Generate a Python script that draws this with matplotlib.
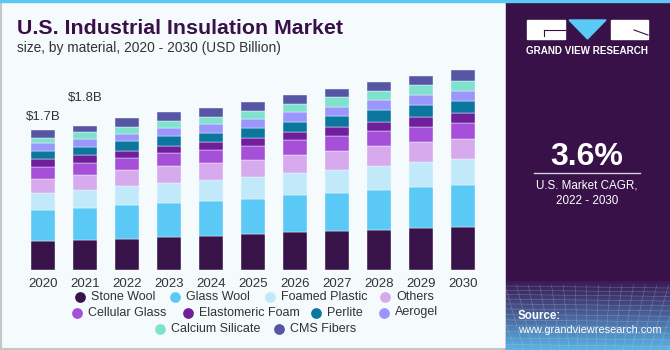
import numpy as np
import matplotlib.pyplot as plt
from matplotlib.patches import Rectangle, Polygon

plt.rcParams['font.family'] = ['Liberation Sans', 'DejaVu Sans']

years = ['2020', '2021', '2022', '2023', '2024', '2025', '2026', '2027', '2028', '2029', '2030']

# USD Billion
stone_wool = [0.347, 0.356, 0.375, 0.400, 0.412, 0.433, 0.457, 0.469, 0.485, 0.502, 0.518]
glass_wool = [0.378, 0.394, 0.407, 0.414, 0.427, 0.430, 0.447, 0.467, 0.487, 0.500, 0.515]
foamed_plastic = [0.207, 0.219, 0.235, 0.240, 0.252, 0.264, 0.272, 0.280, 0.292, 0.305, 0.310]
others = [0.174, 0.186, 0.195, 0.204, 0.204, 0.211, 0.223, 0.232, 0.240, 0.247, 0.251]
cellular_glass = [0.143, 0.143, 0.146, 0.158, 0.162, 0.167, 0.175, 0.183, 0.183, 0.186, 0.195]
elastomeric_foam = [0.097, 0.094, 0.089, 0.093, 0.094, 0.101, 0.105, 0.102, 0.113, 0.115, 0.122]
perlite = [0.097, 0.105, 0.115, 0.115, 0.117, 0.118, 0.122, 0.141, 0.139, 0.146, 0.146]
aerogel = [0.094, 0.090, 0.093, 0.097, 0.102, 0.110, 0.118, 0.106, 0.122, 0.126, 0.122]
calcium_silicate = [0.065, 0.085, 0.085, 0.093, 0.093, 0.097, 0.101, 0.122, 0.117, 0.122, 0.122]
cms_fibers = [0.097, 0.077, 0.102, 0.102, 0.106, 0.106, 0.106, 0.094, 0.110, 0.110, 0.127]

series = [
    ('Stone Wool', stone_wool, '#381349'),
    ('Glass Wool', glass_wool, '#5bc9f6'),
    ('Foamed Plastic', foamed_plastic, '#c1e9fa'),
    ('Others', others, '#d6aaec'),
    ('Cellular Glass', cellular_glass, '#a64fd8'),
    ('Elastomeric Foam', elastomeric_foam, '#6f1f9b'),
    ('Perlite', perlite, '#0b779f'),
    ('Aerogel', aerogel, '#9b96fb'),
    ('Calcium Silicate', calcium_silicate, '#7fe2cc'),
    ('CMS Fibers', cms_fibers, '#5756a5'),
]

value_labels = {0: '$1.7B', 1: '$1.8B'}
label_offsets = {0: 13, 1: 28}  # px above bar

legend_rows = [
    ['Stone Wool', 'Glass Wool', 'Foamed Plastic', 'Others'],
    ['Cellular Glass', 'Elastomeric Foam', 'Perlite', 'Aerogel'],
    ['Calcium Silicate', 'CMS Fibers'],
]
legend_x = [[80, 175, 270, 385], [77, 188, 316, 384], [160, 279]]
legend_y = [296.5, 312.5, 328.5]

W, H = 670, 350
fig = plt.figure(figsize=(6.7, 3.5), dpi=100)

# background layer in pixel coords
bg = fig.add_axes([0, 0, 1, 1])
bg.set_xlim(0, W)
bg.set_ylim(H, 0)
bg.axis('off')
bg.add_patch(Rectangle((0, 0), W, H, color='#f5fafd', zorder=0))
bg.plot([0.5, 0.5], [0, H], color='#c6c6c6', lw=1.5, zorder=1)
bg.plot([0, W], [H - 1, H - 1], color='#c6c6c6', lw=1.5, zorder=1)

# right panel with gradient at the bottom
px0 = 506
panel = Rectangle((px0, 0), W - px0, H, color='#371147', zorder=1)
bg.add_patch(panel)
grad = np.linspace(0, 1, 80)[:, None]
c0 = np.array([0x3a, 0x1c, 0x55]) / 255
c1 = np.array([0x5a, 0xb4, 0xe6]) / 255
img = c0 + (c1 - c0) * (grad ** 1.1)[:, :, None] * np.ones((1, 2, 1))
bg.imshow(img, extent=(px0, W, H, 281), aspect='auto', zorder=2, interpolation='bilinear')
for k in range(14):
    yy = 286 + k * 4 + k * k * 0.12
    ln, = bg.plot([px0, W], [yy, yy + 2], color='#c8d4f2', lw=0.4, alpha=0.35, zorder=3)
    ln.set_clip_path(panel)
for k in range(20):
    xx = px0 + k * 9
    ln, = bg.plot([xx + (xx - 588) * 0.3, xx], [285, H], color='#c8d4f2', lw=0.4, alpha=0.35, zorder=3)
    ln.set_clip_path(panel)

bg.add_patch(Rectangle((0, 0), W, 2, color='#5bc9f6', zorder=4))

# logo
bg.add_patch(Rectangle((527, 20), 38, 19, color='white', zorder=5))
bg.plot([544, 565], [30, 30], color='#371147', lw=0.8, zorder=6)
bg.plot([544, 544], [30, 36], color='#371147', lw=0.8, zorder=6)
bg.add_patch(Polygon([(569, 20), (606, 20), (587.5, 39)], closed=True, color='#5bc9f6', zorder=5))
bg.add_patch(Rectangle((611, 20), 37, 19, color='white', zorder=5))
bg.plot([634, 648], [30, 35], color='#371147', lw=0.8, zorder=6)
bg.text(587.5, 50.5, 'GRAND VIEW RESEARCH', color='white', fontsize=7.1, fontweight='bold',
        ha='center', va='center', zorder=6)

bg.text(587, 157, '3.6%', color='white', fontsize=23, fontweight='bold', ha='center', va='center', zorder=6)
bg.plot([534, 640], [173, 173], color='#d9cfe0', lw=1, zorder=6)
bg.text(587, 185, 'U.S. Market CAGR,', color='white', fontsize=8.4, ha='center', va='center', zorder=6)
bg.text(587, 201, '2022 - 2030', color='white', fontsize=8.4, ha='center', va='center', zorder=6)
bg.text(518, 316, 'Source:', color='white', fontsize=8.3, fontweight='bold', ha='left', va='center', zorder=6)
bg.text(518, 330, 'www.grandviewresearch.com', color='white', fontsize=7.9, ha='left', va='center', zorder=6)

# titles
bg.text(17, 29, 'U.S. Industrial Insulation Market', color='#3a1048', fontsize=15.4, fontweight='bold',
        ha='left', va='center', zorder=6)
bg.text(17, 48, 'size, by material, 2020 - 2030 (USD Billion)', color='#333333', fontsize=9.9,
        ha='left', va='center', zorder=6)

# legend
names = {n: c for n, _, c in series}
for row, xs, yy in zip(legend_rows, legend_x, legend_y):
    for name, xx in zip(row, xs):
        bg.scatter([xx], [yy], s=45, color=names[name], zorder=6)
        bg.text(xx + 11, yy, name, color='#333333', fontsize=9, ha='left', va='center', zorder=6)

# chart
base_px = 269.5
top_px = 60
bpp = 1.7 / 139.5  # billion per pixel
ax = fig.add_axes([1 / W, (H - base_px) / H, 504 / W, (base_px - top_px) / H])
ax.set_facecolor('none')
x = np.arange(len(years))
bottom = np.zeros(len(years))
for name, vals, color in series:
    ax.bar(x, vals, bottom=bottom, width=24 / 42, color=color, edgecolor='#f5fafd', linewidth=0.3)
    bottom += np.array(vals)

for i, lab in value_labels.items():
    ax.text(x[i], bottom[i] + label_offsets[i] * bpp, lab, ha='center', va='center',
            fontsize=9.5, color='#333333')

ax.set_xlim(-1, 11)
ax.set_ylim(0, (base_px - top_px) * bpp)
ax.set_xticks(x)
ax.set_xticklabels(years, fontsize=9.5, color='#333333')
ax.tick_params(axis='x', length=0, pad=6)
ax.set_yticks([])
for s in ax.spines.values():
    s.set_visible(False)

fig.savefig('out.png', dpi=100)
